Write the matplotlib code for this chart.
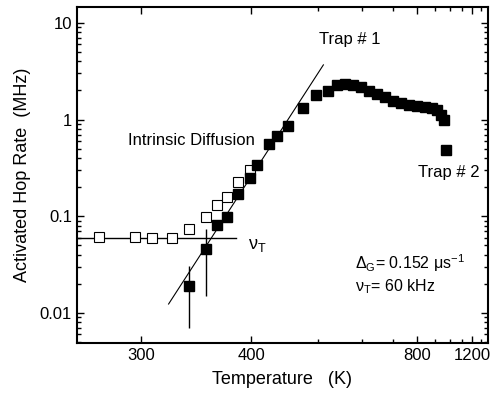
import matplotlib
matplotlib.use("Agg")
import matplotlib.pyplot as plt
import matplotlib.ticker as mticker
import numpy as np

plt.rcParams['font.family'] = ['Liberation Sans', 'DejaVu Sans']
plt.rcParams['mathtext.fontset'] = 'custom'
plt.rcParams['mathtext.rm'] = 'Liberation Sans'
plt.rcParams['mathtext.it'] = 'Liberation Sans:italic'
plt.rcParams['mathtext.default'] = 'regular'

# open squares (below trap region)
open_T = [274, 296, 308, 323, 337, 352, 362, 373, 384, 398]
open_rate = [0.061, 0.061, 0.060, 0.060, 0.074, 0.099, 0.132, 0.159, 0.227, 0.30]

# filled squares (activated hop rate)
fill_T = [337, 352, 362, 373, 384, 398, 407, 422, 434, 449, 473, 497, 521,
          540, 558, 577, 598, 621, 645, 671, 699, 730, 763, 800, 840, 879,
          909, 935, 955, 966]
fill_rate = [0.019, 0.046, 0.082, 0.099, 0.171, 0.25, 0.34, 0.56, 0.68, 0.86,
             1.32, 1.80, 1.98, 2.30, 2.32, 2.28, 2.15, 1.98, 1.84, 1.70, 1.57,
             1.47, 1.41, 1.38, 1.36, 1.33, 1.25, 1.12, 1.00, 0.49]
err_lo = [0.012, 0.031, 0.008, 0.010, 0.015, 0.02, 0.0, 0.0, 0.0, 0.0,
          0.0, 0.0, 0.0, 0.0, 0.0, 0.0, 0.0, 0.0, 0.0, 0.0, 0.0,
          0.0, 0.0, 0.0, 0.0, 0.0, 0.0, 0.0, 0.0, 0.0]
err_hi = [0.012, 0.028, 0.010, 0.013, 0.018, 0.03, 0.0, 0.0, 0.0, 0.0,
          0.0, 0.0, 0.0, 0.0, 0.0, 0.0, 0.0, 0.0, 0.0, 0.0, 0.0,
          0.0, 0.0, 0.0, 0.0, 0.0, 0.0, 0.0, 0.0, 0.0]

# guide lines
nu_T = 0.06
nu_line_T = [262, 382]
arrh_T = [320, 511]
arrh_rate = [0.0124, 3.68]


def inv_fwd(t):
    t = np.asarray(t, float)
    with np.errstate(divide='ignore', invalid='ignore'):
        return -1.0 / np.where(t > 0, t, 1e-9)


def inv_back(u):
    u = np.asarray(u, float)
    with np.errstate(divide='ignore', invalid='ignore'):
        return -1.0 / np.where(u < 0, u, -1e-9)


fig = plt.figure(figsize=(4.9, 4.0), dpi=100)
ax = fig.add_axes([0.157, 0.1425, 0.839, 0.84])
ax.set_xlim(262, 1400)
ax.set_ylim(0.0049, 14.6)
ax.set_xscale('function', functions=(inv_fwd, inv_back))
ax.set_yscale('log')

ax.plot(nu_line_T, [nu_T, nu_T], color='black', lw=1.0)
ax.plot(arrh_T, arrh_rate, color='black', lw=0.8)

ax.errorbar(fill_T, fill_rate, yerr=[err_lo, err_hi], fmt='none',
            ecolor='black', elinewidth=1.0, capsize=0)
ax.plot(open_T, open_rate, 's', mfc='white', mec='black', mew=0.8, ms=7)
ax.plot(fill_T, fill_rate, 's', color='black', ms=7.8)

ax.set_xlim(262, 1400)
ax.set_ylim(0.0049, 14.6)

ax.xaxis.set_major_locator(mticker.FixedLocator([300, 400, 800, 1200]))
ax.xaxis.set_minor_locator(mticker.FixedLocator([500, 600, 700, 900, 1000, 1100, 1300]))
ax.xaxis.set_major_formatter(mticker.FixedFormatter(['300', '400', '800', '1200']))
ax.xaxis.set_minor_formatter(mticker.NullFormatter())

ax.yaxis.set_major_locator(mticker.FixedLocator([0.01, 0.1, 1, 10]))
ax.yaxis.set_major_formatter(mticker.FixedFormatter(['0.01', '0.1', '1', '10']))
ax.yaxis.set_minor_locator(mticker.LogLocator(base=10, subs=np.arange(2, 10)))
ax.yaxis.set_minor_formatter(mticker.NullFormatter())

ax.tick_params(which='both', direction='in', top=True, right=True, width=1.0,
               labelsize=12)
ax.tick_params(which='major', length=5)
ax.tick_params(which='minor', length=3)
for s in ax.spines.values():
    s.set_linewidth(1.5)

ax.set_xlabel('Temperature   (K)', fontsize=13, labelpad=6)
ax.set_ylabel('Activated Hop Rate  (MHz)', fontsize=13, labelpad=6)

ax.text(0.664, 0.902, 'Trap # 1', transform=ax.transAxes, fontsize=12,
        ha='center', va='center')
ax.text(0.279, 0.604, 'Intrinsic Diffusion', transform=ax.transAxes, fontsize=12,
        ha='center', va='center')
ax.text(0.905, 0.506, 'Trap # 2', transform=ax.transAxes, fontsize=12,
        ha='center', va='center')
ax.text(0.415, 0.289, r'$\nu_T$', transform=ax.transAxes, fontsize=13,
        ha='left', va='center')
ax.text(0.676, 0.238, r'$\Delta_G$= 0.152 $\mu$s$^{-1}$', transform=ax.transAxes,
        fontsize=11.5, ha='left', va='center')
ax.text(0.676, 0.167, r'$\nu_T$= 60 kHz', transform=ax.transAxes,
        fontsize=11.5, ha='left', va='center')

fig.savefig('out.png', dpi=100)
